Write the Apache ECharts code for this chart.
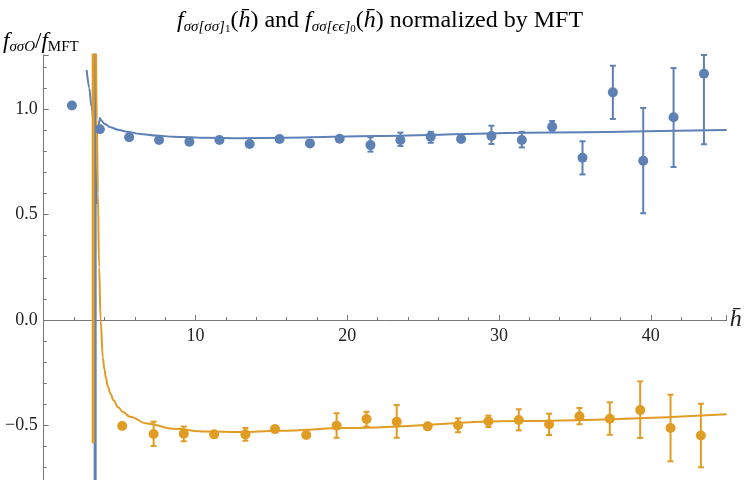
<!DOCTYPE html>
<html><head><meta charset="utf-8">
<script src="https://cdn.jsdelivr.net/npm/echarts@6/dist/echarts.min.js"></script>
<style>html,body{margin:0;padding:0;background:#fff}#c{width:747px;height:480px}</style>
</head><body><div id="c"></div>
<script>
// ---- data ----
const blueX  = [1.86, 3.7, 5.63, 7.6, 9.6, 11.58, 13.57, 15.54, 17.54, 19.5, 21.53, 23.5, 25.5, 27.5, 29.5, 31.5, 33.5, 35.5, 37.5, 39.5, 41.5, 43.5];
const blueY  = [1.017, 0.904, 0.866, 0.853, 0.845, 0.853, 0.834, 0.858, 0.837, 0.859, 0.829, 0.853, 0.869, 0.858, 0.872, 0.853, 0.916, 0.769, 1.079, 0.755, 0.961, 1.167];
const blueLo = [null, null, null, null, null, null, 0.824, 0.846, null, 0.848, 0.798, 0.825, 0.840, null, 0.834, 0.818, 0.897, 0.690, 0.953, 0.506, 0.725, 0.833];
const blueHi = [null, null, null, null, null, null, 0.846, 0.870, null, 0.870, 0.866, 0.888, 0.892, null, 0.921, 0.892, 0.943, 0.847, 1.205, 1.005, 1.194, 1.256];

const orangeX  = [5.17, 7.24, 9.23, 11.23, 13.29, 15.24, 17.3, 19.3, 21.27, 23.26, 25.3, 27.3, 29.3, 31.3, 33.3, 35.3, 37.3, 39.3, 41.3, 43.3];
const orangeY  = [-0.502, -0.540, -0.539, -0.542, -0.542, -0.517, -0.545, -0.501, -0.469, -0.482, -0.504, -0.499, -0.480, -0.474, -0.494, -0.456, -0.468, -0.427, -0.512, -0.547];
const orangeLo = [null, -0.597, -0.575, -0.552, -0.572, null, null, -0.558, -0.505, -0.558, null, -0.532, -0.507, -0.523, -0.545, -0.494, -0.544, -0.559, -0.670, -0.698];
const orangeHi = [null, -0.482, -0.505, -0.532, -0.512, null, null, -0.442, -0.435, -0.403, null, -0.466, -0.453, -0.423, -0.444, -0.417, -0.390, -0.291, -0.354, -0.397];

// fitted curves; null marks a break at the pole
const blueCurveX = [2.83, 3.0, 3.15, 3.33, 3.42, 3.49, null, 3.6, 3.7, 3.8, 4.0, 4.4, 4.89, 5.5, 6.34, 7.4, 8.53, 10.72, 12.9, 16, 22, 31.9, 45];
const blueCurveY = [1.185, 1.10, 1.01, 0.916, 0.75, 0.55, null, 0.90, 0.957, 0.945, 0.93, 0.913, 0.902, 0.892, 0.882, 0.874, 0.869, 0.864, 0.862, 0.864, 0.872, 0.888, 0.900];
const orangeCurveX = [3.45, 3.5, 3.57, 3.65, 3.75, 3.9, 4.0, 4.1, 4.23, 4.4, 4.6, 4.89, 5.2, 5.68, 6.78, 8.53, 10.72, 12.9, 15.5, 20, 31.3, 45];
const orangeCurveY = [1.3, 0.95, 0.6, 0.25, 0.0, -0.18, -0.235, -0.275, -0.315, -0.35, -0.38, -0.412, -0.435, -0.458, -0.49, -0.515, -0.529, -0.531, -0.525, -0.512, -0.479, -0.447];
// near-vertical pole segments
const bluePoleX = [3.39, 3.39];
const bluePoleY = [1.3, -1.0];
const orangePoleX = [3.26, 3.26];
const orangePoleY = [1.3, -0.584];

const xTickLabels = {10: '10', 20: '20', 30: '30', 40: '40'};
const yTickLabels = {'1': '1.0', '0.5': '0.5', '0': '0.0', '-0.5': '\u22120.5'};

// ---- chart ----
const BLUE = '#5E81B5', ORANGE = '#E19C24';
const SERIF = "'Liberation Serif','DejaVu Serif',serif";
const AX = '#777';
const TXT = '#222';
const Y_MIN = -1, Y_MAX = 1.256;
const GRID_TOP = 55, GRID_H = 476;
// shift the x axis (drawn at the grid bottom) up so that it sits on y = 0
const X_OFFSET = -GRID_H * (0 - Y_MIN) / (Y_MAX - Y_MIN);

const pair = (xs, ys) => xs.map((x, i) => (x === null ? [null, null] : [x, ys[i]]));
const bars = (xs, lo, hi) => xs.map((x, i) => [x, lo[i], hi[i]]).filter(d => d[1] !== null);

function errRender(color) {
  return function (params, api) {
    const x = api.value(0), lo = api.value(1), hi = api.value(2);
    const a = api.coord([x, lo]), b = api.coord([x, hi]);
    const w = 3;
    const st = { stroke: color, lineWidth: 2 };
    return { type: 'group', children: [
      { type: 'line', shape: { x1: a[0], y1: a[1], x2: b[0], y2: b[1] }, style: st },
      { type: 'line', shape: { x1: a[0] - w, y1: a[1], x2: a[0] + w, y2: a[1] }, style: st },
      { type: 'line', shape: { x1: b[0] - w, y1: b[1], x2: b[0] + w, y2: b[1] }, style: st }
    ]};
  };
}

function richSet(m, s, ss) {
  return {
    i: { fontFamily: SERIF, fontStyle: 'italic', fontSize: m, lineHeight: m + 4, verticalAlign: 'middle', color: TXT },
    n: { fontFamily: SERIF, fontSize: m, lineHeight: m + 4, verticalAlign: 'middle', color: TXT },
    s: { fontFamily: SERIF, fontStyle: 'italic', fontSize: s, lineHeight: s, padding: [Math.round(m * 0.7), 0, 0, 0], verticalAlign: 'bottom', color: TXT },
    u: { fontFamily: SERIF, fontSize: s, lineHeight: s, padding: [Math.round(m * 0.7), 0, 0, 0], verticalAlign: 'bottom', color: TXT },
    ss: { fontFamily: SERIF, fontSize: ss, lineHeight: ss, padding: [Math.round(m * 1.0), 0, 0, 0], verticalAlign: 'bottom', color: TXT }
  };
}

const chart = echarts.init(document.getElementById('c'), null, { renderer: 'canvas' });
chart.setOption({
  animation: false,
  backgroundColor: '#fff',
  grid: { left: 43.7, top: GRID_TOP, width: 683, height: GRID_H, containLabel: false, outerBoundsMode: 'none' },
  xAxis: {
    type: 'value', min: 0, max: 45, interval: 10, position: 'bottom', offset: X_OFFSET,
    axisLine: { onZero: false, lineStyle: { color: AX, width: 1 } },
    axisTick: { inside: true, length: 5, lineStyle: { color: AX } },
    minorTick: { show: true, splitNumber: 5, length: 3, lineStyle: { color: AX } },
    splitLine: { show: false },
    axisLabel: { margin: 7, fontFamily: SERIF, fontSize: 18, color: TXT,
      formatter: v => xTickLabels[v] || '' },
    name: 'h\u0304', nameLocation: 'end', nameGap: 3,
    nameTextStyle: { fontFamily: SERIF, fontStyle: 'italic', fontSize: 24, color: TXT }
  },
  yAxis: {
    type: 'value', min: Y_MIN, max: Y_MAX, interval: 0.5,
    axisLine: { show: true, onZero: false, lineStyle: { color: AX, width: 1 } },
    axisTick: { inside: true, length: 5, lineStyle: { color: AX } },
    minorTick: { show: true, splitNumber: 5, length: 3, lineStyle: { color: AX } },
    splitLine: { show: false },
    axisLabel: { margin: 6, fontFamily: SERIF, fontSize: 18, color: TXT,
      formatter: v => yTickLabels[String(Math.round(v * 10) / 10)] || '' }
  },
  graphic: [
    { type: 'text', left: 177, top: 0,
      style: { text: '{i|f}{s|σσ[σσ]}{ss|1}{n|(}{i|h\u0304}{n|) and }{i|f}{s|σσ[ϵϵ]}{ss|0}{n|(}{i|h\u0304}{n|) normalized by MFT}', rich: richSet(24, 15, 11) } },
    { type: 'text', left: 3, top: 24,
      style: { text: '{i|f}{s|σσO}{n|/}{i|f}{u|MFT}', rich: richSet(23, 15, 11) } }
  ],
  series: [
    { type: 'line', data: pair(blueCurveX, blueCurveY), showSymbol: false, smooth: 0.3, smoothMonotone: 'x',
      connectNulls: false, lineStyle: { color: BLUE, width: 2 }, z: 2, clip: true },
    { type: 'line', data: pair(bluePoleX, bluePoleY), showSymbol: false,
      lineStyle: { color: BLUE, width: 3 }, z: 2, clip: true },
    { type: 'line', data: pair(orangePoleX, orangePoleY), showSymbol: false,
      lineStyle: { color: ORANGE, width: 3 }, z: 3, clip: true },
    { type: 'line', data: pair(orangeCurveX, orangeCurveY), showSymbol: false, smooth: 0.4, smoothMonotone: 'x',
      lineStyle: { color: ORANGE, width: 2 }, z: 2, clip: true },
    { type: 'custom', renderItem: errRender(BLUE), data: bars(blueX, blueLo, blueHi), encode: { x: 0, y: [1, 2] }, z: 4 },
    { type: 'custom', renderItem: errRender(ORANGE), data: bars(orangeX, orangeLo, orangeHi), encode: { x: 0, y: [1, 2] }, z: 4 },
    { type: 'scatter', data: pair(blueX, blueY), symbolSize: 10, itemStyle: { color: BLUE, opacity: 1 }, z: 5 },
    { type: 'scatter', data: pair(orangeX, orangeY), symbolSize: 10, itemStyle: { color: ORANGE, opacity: 1 }, z: 5 }
  ]
});
</script>
</body></html>
